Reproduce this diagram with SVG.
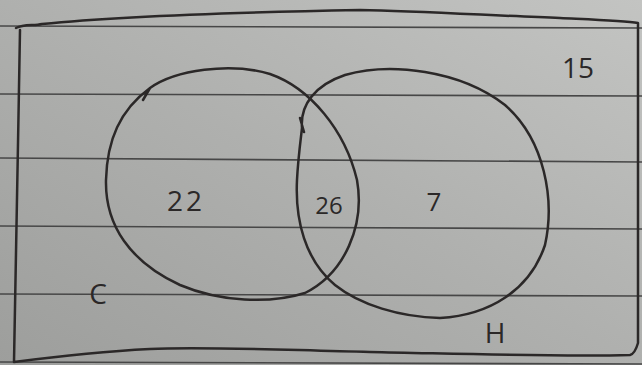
<svg xmlns="http://www.w3.org/2000/svg" width="642" height="365" viewBox="0 0 642 365">
<defs>
<linearGradient id="bg" x1="0" y1="1" x2="1" y2="0">
<stop offset="0" stop-color="#9d9e9c"/>
<stop offset="0.5" stop-color="#afb0ae"/>
<stop offset="1" stop-color="#c3c4c2"/>
</linearGradient>
<style>
.rule{stroke:#474747;stroke-width:1.6;fill:none}
.ink{stroke:#2b2828;stroke-width:2.5;fill:none;stroke-linecap:round;stroke-linejoin:round}
.lbl{font-family:"Open Sans","DejaVu Sans",sans-serif;font-weight:400;fill:#2b2828;text-anchor:middle}
</style>
</defs>
<rect x="0" y="0" width="642" height="365" fill="url(#bg)"/>
<g id="ruled-lines">
<path class="rule" d="M0,26 L642,28"/>
<path class="rule" d="M0,94 L642,96"/>
<path class="rule" d="M0,158 L642,162"/>
<path class="rule" d="M0,226 L642,229"/>
<path class="rule" d="M0,294 L642,296"/>
<path class="rule" d="M0,362 L642,364"/>
</g>
<g id="universe">
<path class="ink" d="M16,28 C24,24 34,26 42,24 C120,16 250,12 360,10 C420,11 500,16 560,18 C600,20 625,21 638,23 L638,343 C636,350 634,354 630,355 C560,357 470,354 370,352 C280,350 200,346 150,349 C110,351 60,356 14,362 C15,300 18,150 20,30"/>
</g>
<g id="set-C">
<path class="ink" d="M143,100 L150,88 C175,70 230,62 270,74 C310,88 345,130 357,180 C365,225 345,273 305,293 C270,304 220,302 180,285 C130,262 105,225 106,180 C107,140 120,110 150,88"/>
</g>
<g id="set-H">
<path class="ink" d="M300,118 L304,132 M302,128 C300,105 315,85 345,75 C390,62 460,70 505,105 C545,140 555,200 545,245 C530,290 490,315 440,318 C400,317 360,305 335,285 C305,260 295,220 297,180 C298,160 300,145 302,128"/>
</g>
<g id="labels">
<text class="lbl" x="186" y="211" font-size="28" letter-spacing="3">22</text>
<text class="lbl" x="329" y="214" font-size="24">26</text>
<text class="lbl" x="434" y="211" font-size="26">7</text>
<text class="lbl" x="578" y="78" font-size="28">15</text>
<text class="lbl" x="98" y="304" font-size="28">C</text>
<text class="lbl" x="495" y="343" font-size="28">H</text>
</g>
</svg>
